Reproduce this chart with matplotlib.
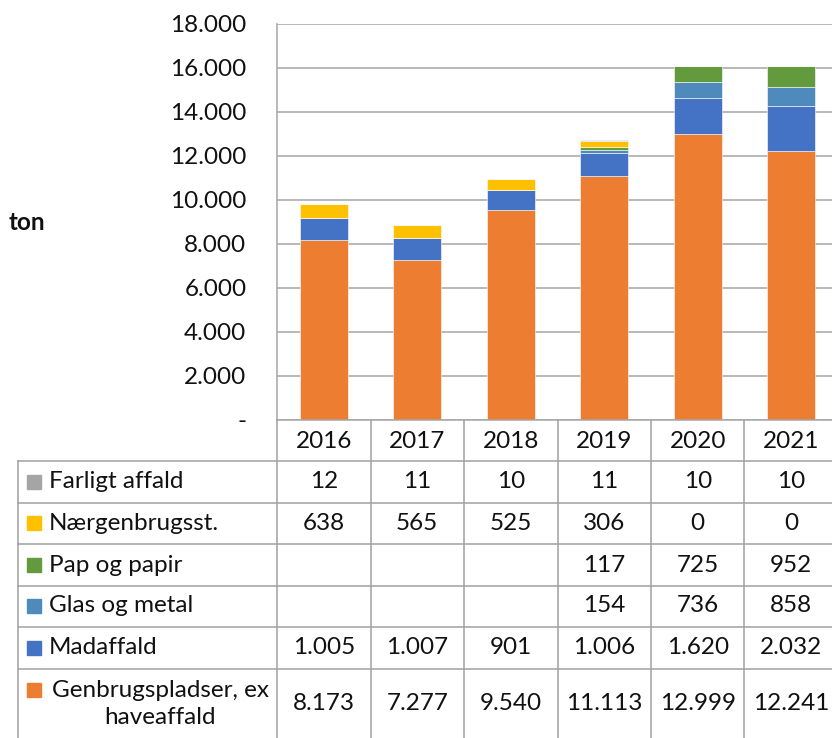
import matplotlib
matplotlib.use("Agg")
import matplotlib.pyplot as plt
import matplotlib.transforms as mtransforms
from matplotlib.lines import Line2D
from matplotlib.patches import Rectangle
import numpy as np

# ---------------- data ----------------
years = ["2016", "2017", "2018", "2019", "2020", "2021"]
genbrug = [8173, 7277, 9540, 11113, 12999, 12241]
madaffald = [1005, 1007, 901, 1006, 1620, 2032]
glas_metal = [None, None, None, 154, 736, 858]
pap_papir = [None, None, None, 117, 725, 952]
naergenbrug = [638, 565, 525, 306, 0, 0]
farligt = [12, 11, 10, 11, 10, 10]

# stacking order (bottom -> top)
series_names = ["Genbrugspladser, ex\nhaveaffald", "Madaffald", "Glas og metal",
                "Pap og papir", "Nærgenbrugsst.", "Farligt affald"]
series_values = [genbrug, madaffald, glas_metal, pap_papir, naergenbrug, farligt]
series_colors = ["#ED7D31", "#4472C4", "#4F8ABD", "#639A3E", "#FFC000", "#A5A5A5"]

y_ticks = [0, 2000, 4000, 6000, 8000, 10000, 12000, 14000, 16000, 18000]
y_label = "ton"

FONT = ["Lato", "DejaVu Sans"]
plt.rcParams["font.family"] = FONT
FS = 17.5
GRID = "#A6A6A6"
LINE = "#A0A0A0"
TXT = "#111111"

W, H = 832, 738
fig = plt.figure(figsize=(W / 100, H / 100), dpi=100)


def fy(py):
    return 1 - py / H


def fx(px):
    return px / W


ax_left, ax_right, ax_top, ax_bottom = 277, 838, 24, 420
ax = fig.add_axes([fx(ax_left), fy(ax_bottom), fx(ax_right - ax_left),
                   (ax_bottom - ax_top) / H])

x = np.arange(len(years))
bottom = np.zeros(len(years))
for name, vals, col in zip(series_names, series_values, series_colors):
    v = np.array([0 if a is None else a for a in vals], dtype=float)
    ax.bar(x, v, width=0.51, bottom=bottom, color=col, edgecolor="#FFFFFF",
           linewidth=0.4, zorder=3)
    bottom += v

ax.set_xlim(-0.5, len(years) - 0.5)
ax.set_ylim(0, 18000)
ax.set_yticks(y_ticks)
ax.set_yticklabels(["-" if t == 0 else f"{t:,}".replace(",", ".") for t in y_ticks],
                   fontsize=FS, color=TXT)
ax.tick_params(axis="y", length=0, pad=22)
ax.set_xticks([])
ax.grid(axis="y", color=GRID, linewidth=1.1, zorder=0)
for s in ["top", "right"]:
    ax.spines[s].set_visible(False)
ax.spines["left"].set_color(GRID)
ax.spines["left"].set_linewidth(1.1)
ax.spines["bottom"].set_color(GRID)
ax.spines["bottom"].set_linewidth(1.1)
ax.spines["bottom"].set_zorder(4)

fig.text(fx(9), fy(223), y_label, fontsize=FS, fontweight="bold",
         ha="left", va="center", color=TXT)

# ---------------- data table ----------------
tr = mtransforms.blended_transform_factory(ax.transData, fig.transFigure)
row_lines = [461, 502.5, 544, 585.5, 627, 668.5]
table_bottom = 745
row_centers = [482, 523, 565, 606, 648, 704]

# vertical column lines
for i in range(len(years) + 1):
    xi = i - 0.5
    fig.add_artist(Line2D([xi, xi], [fy(ax_bottom), fy(table_bottom)], transform=tr,
                          color=LINE, linewidth=1.1, clip_on=False))
# left border of label column
fig.add_artist(Line2D([fx(18), fx(18)], [fy(461), fy(table_bottom)],
                      transform=fig.transFigure, color=LINE, linewidth=1.1))
# horizontal row lines
for ry in row_lines:
    fig.add_artist(Line2D([fx(18), 1], [fy(ry), fy(ry)], transform=fig.transFigure,
                          color=LINE, linewidth=1.1))

# header with years
for i, yr in enumerate(years):
    fig.text(i, fy(441), yr, transform=tr, ha="center", va="center",
             fontsize=FS, color=TXT)

# rows, top to bottom = reverse stacking order
rows = list(zip(series_names, series_values, series_colors))[::-1]
for (name, vals, col), cy in zip(rows, row_centers):
    if "\n" in name:
        sq_y = 690
        fig.text(fx(160), fy(cy), name, ha="center", va="center",
                 multialignment="center", fontsize=FS, color=TXT,
                 linespacing=1.3)
    else:
        sq_y = cy
        fig.text(fx(49), fy(cy), name, ha="left", va="center",
                 fontsize=FS, color=TXT)
    fig.add_artist(Rectangle((fx(27), fy(sq_y + 7)), fx(14), 14 / H,
                             transform=fig.transFigure, color=col))
    for i, v in enumerate(vals):
        if v is None:
            continue
        fig.text(i, fy(cy), f"{v:,}".replace(",", "."), transform=tr,
                 ha="center", va="center", fontsize=FS, color=TXT)

fig.savefig("out.png", dpi=100)
